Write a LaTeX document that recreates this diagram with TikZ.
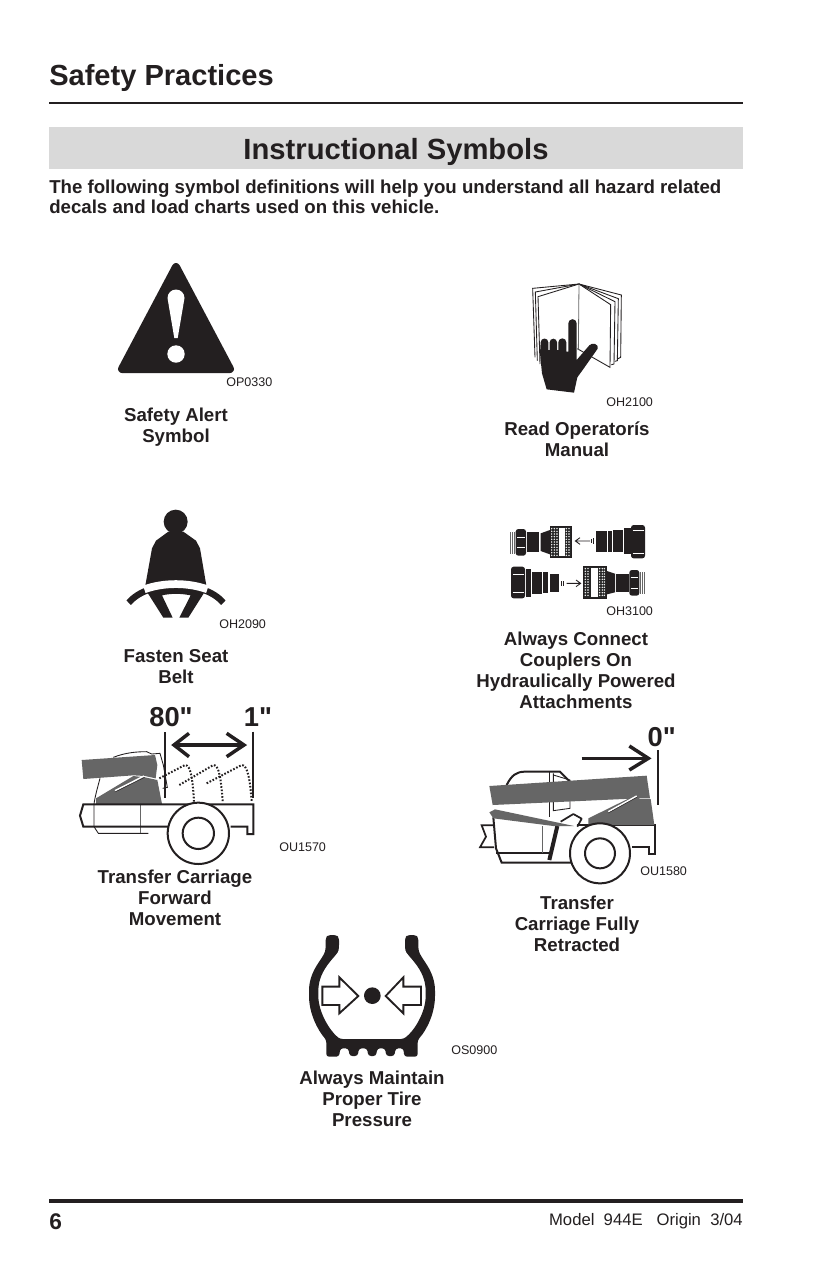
\documentclass[tikz,border=0pt]{standalone}
\usepackage{fontspec}
\setmainfont{Liberation Sans}
\newfontfamily\dimfont[Ligatures=ResetAll]{Liberation Sans}
\definecolor{boomgray}{HTML}{666666}
\definecolor{ink}{HTML}{231F20}
\definecolor{band}{HTML}{D9D9D9}
\tikzset{
  x=0.75pt,y=-0.75pt,
  lab/.style={align=center,inner sep=0pt,font=\bfseries\fontsize{14}{15.75}\selectfont,text=ink},
  code/.style={anchor=west,inner sep=0pt,font=\fontsize{9.4}{11}\selectfont,text=ink},
  dim/.style={inner sep=0pt,font=\dimfont\bfseries\fontsize{20.5}{22}\selectfont,text=ink},
  zoomed/.style={x=0.25pt,y=-0.25pt},
  thinl/.style={draw=ink,line width=0.65pt},
  grayl/.style={draw=black!60,line width=0.6pt},
  medl/.style={draw=ink,line width=1.3pt},
  chassis/.style={draw=ink,line width=1.5pt},
  heavy/.style={draw=ink,line width=2.6pt},
  dotl/.style={draw=ink,line width=1.5pt,dash pattern=on 1.2pt off 1.3pt},
  tirearrow/.style={draw=ink,line width=1.4pt,line join=miter},
}
\begin{document}
\begin{tikzpicture}
\useasboundingbox (0,0) rectangle (825,1275);
\fill[white] (0,0) rectangle (825,1275);
% header
\node[anchor=west,inner sep=0pt,font=\bfseries\fontsize{21.8}{24}\selectfont,text=ink] (title) at (49,78) {Safety Practices};
\draw[ink,line width=1.5pt] (49,103) -- (743,103);
\fill[band] (49,127) rectangle (743,169);
\node[inner sep=0pt,font=\bfseries\fontsize{21.9}{26}\selectfont,text=ink] (head) at (396,152) {Instructional Symbols};
\node[anchor=west,align=left,inner sep=0pt,font=\bfseries\fontsize{14}{15}\selectfont,text=ink] (intro) at (49,196.8) {The following symbol definitions will help you understand all hazard related\\decals and load charts used on this vehicle.};
% footer
\draw[ink,line width=3.6pt] (49,1201) -- (743,1201);
\node[anchor=west,inner sep=0pt,font=\bfseries\fontsize{17}{19}\selectfont,text=ink] (page) at (49,1222) {6};
\node[anchor=east,inner sep=0pt,font=\fontsize{12.5}{14}\selectfont,text=ink] (model) at (743,1221) {Model\ \ 944E\ \ \ Origin\ \ 3/04};

% safety alert
\fill[ink,draw=ink,line width=6pt,line join=round] (176,267) -- (122,369) -- (230,369) -- cycle;
\fill[white] (167.5,298) arc[start angle=180,end angle=360,radius=8.5] -- (177.7,338) -- (174.3,338) -- cycle;
\fill[white] (176,354) circle[radius=8.7];
\node[code] (c1) at (226,382) {OP0330};
\node[lab] (l1) at (176,427) {Safety Alert\\Symbol};

% manual
\begin{scope}[shift={(500,270)},zoomed]
\draw[thinl] (237,42) -- (98,55) -- (105,262);
\draw[thinl] (237,42) -- (106,66) -- (112,272);
\draw[thinl] (237,42) -- (114,80) -- (120,282);
\draw[thinl] (237,42) -- (364,75) -- (362,262) -- (354,266);
\draw[thinl] (237,42) -- (355,86) -- (352,272) -- (344,274);
\draw[thinl] (237,42) -- (345,95) -- (342,282) -- (334,284);
\draw[thinl] (237,42) -- (332,104) -- (330,292) -- (232,236);
\draw[grayl] (237,42) -- (235,240);
\fill[ink] (120,250) -- (122,217) arc[start angle=180,end angle=360,radius=11.5] -- (145,240) -- (149,240) -- (149,217) arc[start angle=180,end angle=360,radius=11] -- (171,240) -- (175,240) -- (175,217) arc[start angle=180,end angle=360,radius=12] -- (199,245) -- (205,245) -- (205,160) arc[start angle=180,end angle=360,radius=12.5] -- (230,270) -- (268,226) .. controls (276,216) and (298,222) .. (293,236) -- (248,300) -- (232,322) -- (222,368) -- (140,358) -- (126,310) -- cycle;
\end{scope}
\node[code] (c2) at (606,402) {OH2100};
\node[lab] (l2) at (577,439) {Read Operatorís\\Manual};

% seat belt
\begin{scope}[shift={(100,500)},zoomed]
\fill[ink] (227,65) circle[radius=36];
\fill[ink] (205,95) -- (168,122) -- (156,145) -- (135,262) -- (145,282) -- (190,353) -- (218,353) -- (186,286) .. controls (215,280) and (240,280) .. (272,286) -- (238,353) -- (265,353) -- (310,282) -- (320,262) -- (300,145) -- (288,122) -- (250,95) -- cycle;
\draw[ink,line width=4.8pt] (86,308) .. controls (100,292) and (120,278) .. (150,268);
\draw[ink,line width=4.8pt] (370,308) .. controls (356,292) and (336,278) .. (306,268);
\draw[white,line width=5.8pt] (133,268) .. controls (190,247) and (265,247) .. (322,268);
\end{scope}
\node[code] (c3) at (219,624) {OH2090};
\node[lab] (l3) at (176,667) {Fasten Seat\\Belt};

% couplers
\begin{scope}[shift={(500,515)},zoomed]
% top left coupler
\foreach \xx in {30,36,42} \draw[grayl] (\xx,52) -- (\xx,118);
\fill[ink,rounded corners=2pt] (47,42) rectangle (78,122);
\draw[white,line width=1pt] (52,68) -- (74,68) (52,97) -- (74,97);
\fill[ink] (80,52) rectangle (118,110);
\fill[ink] (122,55) -- (150,45) -- (150,118) -- (122,108) -- cycle;
\fill[black!85] (150,35) rectangle (215,127);
\fill[white] (176,38) rectangle (194,124);
\foreach \xx in {155,163,171,199,207}
  \foreach \yy in {41,49,...,122} \fill[white] (\xx,\yy) circle[radius=2.4];
\draw[ink,line width=.5pt] (150,35) rectangle (215,127);
% top arrow
\draw[thinl] (270,78) -- (226,78) (240,68) -- (226,78) -- (240,88);
\draw[ink,line width=.6pt] (275,72) -- (275,84) (281,70) -- (281,86);
% top right coupler
\fill[ink] (287,48) rectangle (320,110);
\fill[ink] (323,48) rectangle (335,110);
\fill[ink] (340,45) rectangle (370,112);
\fill[ink] (372,38) rectangle (392,118);
\fill[ink,rounded corners=2pt] (393,30) rectangle (435,130);
\draw[white,line width=1pt] (398,46) -- (431,46) (398,115) -- (431,115);
% bottom left coupler
\fill[ink,rounded corners=2pt] (33,155) rectangle (75,250);
\draw[white,line width=1pt] (38,178) -- (71,178) (38,232) -- (71,232);
\fill[ink] (78,163) rectangle (93,246);
\fill[ink] (97,170) rectangle (125,238);
\fill[ink] (130,172) rectangle (145,235);
\fill[ink] (149,176) rectangle (178,230);
\draw[ink,line width=.6pt] (184,198) -- (184,212) (190,198) -- (190,212);
% bottom arrow
\draw[thinl] (200,205) -- (242,205) (228,195) -- (242,205) -- (228,215);
% bottom right coupler
\fill[black!85] (250,155) rectangle (318,250);
\fill[white] (274,158) rectangle (294,247);
\foreach \xx in {256,264,299,307,313}
  \foreach \yy in {161,169,...,246} \fill[white] (\xx,\yy) circle[radius=2.4];
\draw[ink,line width=.5pt] (250,155) rectangle (318,250);
\fill[ink] (321,168) -- (345,176) -- (345,232) -- (321,238) -- cycle;
\fill[ink] (348,176) rectangle (386,232);
\fill[ink,rounded corners=2pt] (388,165) rectangle (418,242);
\draw[white,line width=1pt] (392,187) -- (414,187) (392,220) -- (414,220);
\foreach \xx in {421,427,433} \draw[grayl] (\xx,172) -- (\xx,236);
\end{scope}
\node[code] (c4) at (606,611) {OH3100};
\node[lab] (l4) at (576,670) {Always Connect\\Couplers On\\Hydraulically Powered\\Attachments};

% forward movement
\begin{scope}[shift={(70,700)},zoomed]
\node[dim] (d80) at (303,52) {80"};
\node[dim] (d1) at (564,52) {1"};
\draw[medl] (285,97) -- (285,295);
\draw[medl] (550,95) -- (550,295);
\draw[heavy] (312,135) -- (522,135);
\draw[heavy,line cap=butt,line join=miter] (357,100) -- (312,135) -- (357,170);
\draw[heavy,line cap=butt,line join=miter] (470,100) -- (522,135) -- (470,170);
% dotted travel
\draw[dotl] (268,235) -- (345,195) .. controls (362,195) and (368,235) .. (372,305);
\draw[dotl] (328,255) -- (430,195) .. controls (447,195) and (453,235) .. (458,305);
\draw[dotl] (410,250) -- (515,195) .. controls (532,195) and (540,235) .. (545,305);
% cab
\draw[thinl] (130,172) .. controls (165,158) and (200,155) .. (230,155) -- (245,162) -- (270,160) -- (280,195) -- (292,262) -- (278,265);
\draw[thinl] (90,235) .. controls (82,265) and (75,290) .. (72,312) -- (72,380) -- (85,400) -- (235,400);
\draw[grayl] (210,313) -- (210,400);
% boom and body
\fill[boomgray] (35,180) -- (255,165) -- (262,195) -- (257,235) -- (225,228) -- (190,226) -- (40,237) -- cycle;
\fill[boomgray] (78,295) -- (190,228) -- (225,232) -- (262,240) -- (276,312) -- (78,312) -- cycle;
\draw[white,line width=1.1pt] (135,272) -- (222,228);
\draw[ink,line width=.3pt] (135,276) -- (224,232);
% chassis
\draw[chassis,line join=miter] (295,380) -- (40,380) -- (30,347) -- (40,313) -- (550,313) -- (550,402) -- (532,402) -- (532,380) -- (482,380);
\draw[chassis,fill=white] (385,400) circle[radius=92];
\draw[chassis,fill=white] (385,400) circle[radius=47];
\end{scope}
\node[code] (c5) at (279,847) {OU1570};
\node[lab] (l5) at (175,898) {Transfer Carriage\\Forward\\Movement};

% fully retracted
\begin{scope}[shift={(470,720)},zoomed]
\node[dim] (d0) at (575,52) {0"};
\draw[medl] (563,90) -- (563,255);
\draw[heavy] (335,115) -- (535,115);
\draw[heavy,line cap=butt,line join=miter] (478,78) -- (535,115) -- (478,150);
% cab
\draw[chassis] (110,195) .. controls (125,165) and (140,155) .. (165,155) -- (270,155) -- (305,190);
\draw[thinl] (250,160) -- (250,272) -- (300,265) -- (300,180) -- (250,165);
\draw[thinl] (238,155) -- (238,290);
\draw[chassis] (70,292) -- (78,385) -- (95,428) -- (305,428);
\draw[medl] (78,400) -- (240,400);
\draw[grayl] (217,318) -- (217,400);
\draw[ink,line width=3pt] (262,318) -- (238,420);
\draw[medl,line join=round] (272,305) -- (310,282) -- (335,296) -- (322,320);
\draw[medl,line join=miter] (70,316) -- (35,316) -- (48,350) -- (30,382) -- (72,382);
\draw[chassis] (320,316) -- (555,316) -- (555,403) -- (538,403) -- (538,380) -- (485,380);
% boom
\fill[boomgray] (58,198) -- (530,167) -- (540,235) -- (505,235) -- (68,255) -- cycle;
\fill[boomgray] (355,295) -- (410,268) -- (495,226) -- (510,237) -- (542,237) -- (553,315) -- (355,315) -- cycle;
\draw[white,line width=1.1pt] (415,275) -- (500,228);
\draw[ink,line width=.3pt] (415,279) -- (502,231);
\fill[boomgray] (58,277) -- (75,268) -- (312,318) -- (250,318) -- (70,295) -- cycle;
\draw[chassis,fill=white] (390,400) circle[radius=90];
\draw[chassis,fill=white] (390,400) circle[radius=45];
\end{scope}
\node[code] (c6) at (640,871) {OU1580};
\node[lab] (l6) at (577,924) {Transfer\\Carriage Fully\\Retracted};

% tire
\begin{scope}[shift={(295,925)},zoomed]
\fill[ink,rounded corners=2pt] (92,70) -- (92,38) -- (100,30) -- (124,30) -- (132,38) -- (132,68) .. controls (128,92) and (70,130) .. (70,205) .. controls (70,262) and (105,318) .. (135,342) -- (325,342) .. controls (358,318) and (392,262) .. (392,205) .. controls (392,130) and (334,92) .. (330,68) -- (330,38) -- (338,30) -- (362,30) -- (370,38) -- (370,70) .. controls (376,100) and (420,135) .. (420,205) .. controls (420,265) and (395,315) .. (368,345) -- (368,395) -- (328,395) -- (325,370) -- (302,370) -- (298,393) -- (274,393) -- (270,370) -- (247,370) -- (243,393) -- (220,393) -- (216,370) -- (192,370) -- (188,393) -- (164,393) -- (160,370) -- (136,370) -- (132,395) -- (94,395) -- (94,345) .. controls (68,315) and (42,265) .. (42,205) .. controls (42,135) and (86,100) .. (92,70) -- cycle;
\draw[tirearrow] (82,185) -- (133,185) -- (133,157) -- (190,213) -- (133,265) -- (133,240) -- (82,240) -- cycle;
\draw[tirearrow] (378,185) -- (325,185) -- (325,157) -- (272,213) -- (325,265) -- (325,240) -- (378,240) -- cycle;
\fill[ink] (232,212) circle[radius=25];
\end{scope}
\node[code] (c7) at (451,1050) {OS0900};
\node[lab] (l7) at (372,1099) {Always Maintain\\Proper Tire\\Pressure};
\end{tikzpicture}
\end{document}
